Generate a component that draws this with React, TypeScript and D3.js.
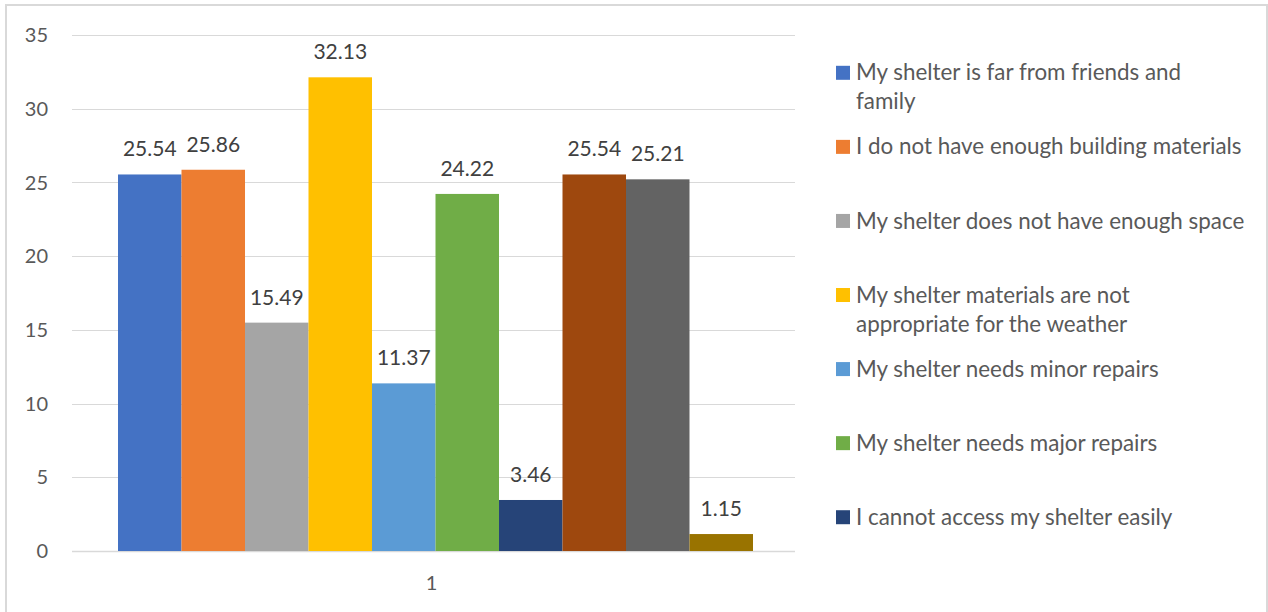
import React from "react";
import * as d3 from "d3";

// Chart data
const categories = ["1"];
const seriesValues = [25.54, 25.86, 15.49, 32.13, 11.37, 24.22, 3.46, 25.54, 25.21, 1.15];
const seriesColors = [
  "#4472C4", "#ED7D31", "#A5A5A5", "#FFC000", "#5B9BD5",
  "#70AD47", "#264478", "#9E480E", "#636363", "#997300",
];
const legendLabels: string[][] = [
  ["My shelter is far from friends and", "family"],
  ["I do not have enough building materials"],
  ["My shelter does not have enough space"],
  ["My shelter materials are not", "appropriate for the weather"],
  ["My shelter needs minor repairs"],
  ["My shelter needs major repairs"],
  ["I cannot access my shelter easily"],
];
const yTicks = [0, 5, 10, 15, 20, 25, 30, 35];

const W = 1268;
const H = 612;
const FONT = "Lato, 'Open Sans', sans-serif";

export default function App() {
  const plot = { left: 72, right: 795, top: 35, bottom: 551 };

  const y = d3.scaleLinear().domain([0, 35]).range([plot.bottom, plot.top]);
  const xCat = d3
    .scaleBand<string>()
    .domain(categories)
    .range([plot.left + 2, plot.right + 2])
    .paddingInner(0)
    .paddingOuter(0.0693);
  const xSeries = d3
    .scaleBand<number>()
    .domain(d3.range(seriesValues.length))
    .range([0, xCat.bandwidth()])
    .padding(0);

  const legendX = 836;
  const legendY0 = 72.3;
  const legendStep = 74.07;
  const lineH = 29;

  return (
    <svg
      width={W}
      height={H}
      style={{ position: "absolute", left: 0, top: 0, display: "block", background: "#fff" }}
      fontFamily={FONT}
    >
      <rect x={6} y={5} width={1261} height={640} fill="#fff" stroke="#d9d9d9" strokeWidth={2} />

      {/* gridlines and y tick labels */}
      {yTicks.map((t) => (
        <g key={t}>
          <line
            x1={plot.left}
            x2={plot.right}
            y1={Math.round(y(t)) + 0.5}
            y2={Math.round(y(t)) + 0.5}
            stroke="#d9d9d9"
            strokeWidth={t === 0 ? 1.5 : 1}
          />
          <text
            x={48}
            y={y(t)}
            dy="0.36em"
            textAnchor="end"
            fontSize={20}
            fill="#595959"
          >
            {t}
          </text>
        </g>
      ))}

      {/* bars and value labels */}
      {categories.map((c) => (
        <g key={c} transform={`translate(${xCat(c)},0)`}>
          {seriesValues.map((v, i) => (
            <g key={i}>
              <rect
                x={xSeries(i)}
                y={y(v)}
                width={xSeries.bandwidth()}
                height={y(0) - y(v)}
                fill={seriesColors[i]}
              />
              <text
                x={(xSeries(i) as number) + xSeries.bandwidth() / 2}
                y={y(v) - 18}
                textAnchor="middle"
                fontSize={21}
                fill="#404040"
              >
                {v.toFixed(2)}
              </text>
            </g>
          ))}
          <text
            x={xCat.bandwidth() / 2 - 4}
            y={583}
            dy="0.36em"
            textAnchor="middle"
            fontSize={20}
            fill="#595959"
          >
            {c}
          </text>
        </g>
      ))}

      {/* legend */}
      {legendLabels.map((lines, i) => {
        const cy = legendY0 + i * legendStep;
        return (
          <g key={i}>
            <rect x={legendX} y={cy - 6.5} width={14} height={14} fill={seriesColors[i]} />
            {lines.map((ln, j) => (
              <text
                key={j}
                x={856}
                y={cy + j * lineH}
                dy="0.36em"
                fontSize={22.4}
                fill="#595959"
              >
                {ln}
              </text>
            ))}
          </g>
        );
      })}
    </svg>
  );
}
